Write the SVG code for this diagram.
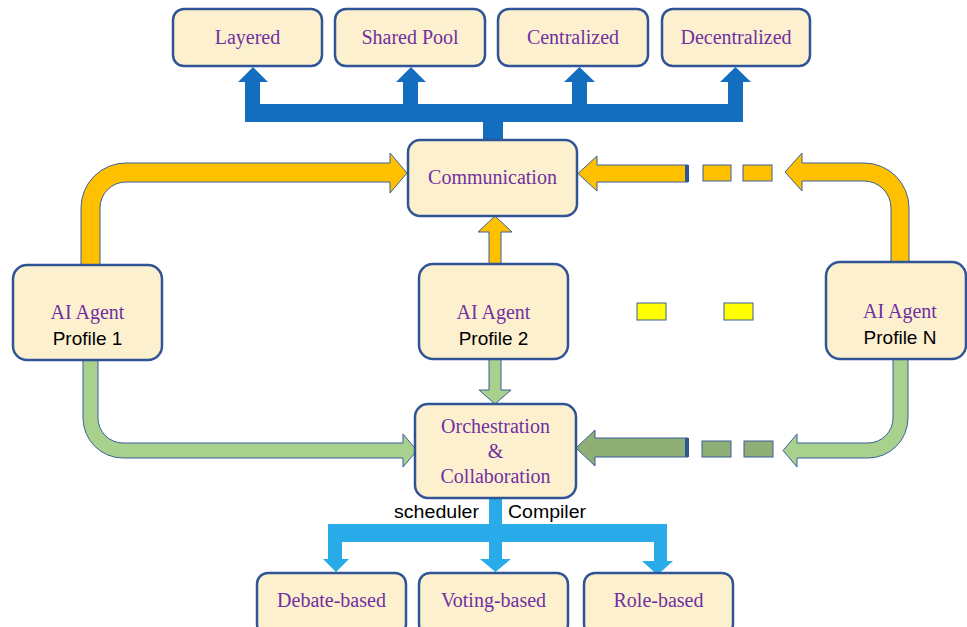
<svg xmlns="http://www.w3.org/2000/svg" width="967" height="627" viewBox="0 0 967 627">
<style>
.box{fill:#fdf0cf;stroke:#2f5597;stroke-width:2.5}
.t{font-family:"Liberation Serif","DejaVu Serif",serif;font-size:20px;fill:#7030a0;text-anchor:middle}
.s{font-family:"Liberation Sans","Open Sans",sans-serif;font-size:19px;fill:#000;text-anchor:middle}
.lbl{font-family:"Liberation Sans","Open Sans",sans-serif;font-size:18px;fill:#000}
.or{fill:#ffc000;stroke:#3a5f9a;stroke-width:1}
.gr{fill:#a9d18e;stroke:#3a5f9a;stroke-width:1}
.dg{fill:#8fae76;stroke:#3a5f9a;stroke-width:1}
.yl{fill:#ffff00;stroke:#3a5f9a;stroke-width:1}
.cap{fill:#2f5597}
.bl{fill:#146ebf}
.lb{fill:#29abe9}
</style>
<rect width="967" height="627" fill="#fff"/>
<g id="connectors">
  <g class="bl">
    <rect x="245" y="104" width="498" height="18"/>
    <rect x="483" y="121" width="20" height="19"/>
    <path d="M245 105 L245 82 L238 82 L253 67 L268 82 L260 82 L260 105 Z"/>
    <path d="M403 105 L403 82 L396 82 L411 67 L426 82 L418 82 L418 105 Z"/>
    <path d="M572 105 L572 82 L564 82 L579.5 67 L595 82 L587 82 L587 105 Z"/>
    <path d="M728 105 L728 82 L720 82 L735.5 67 L751 82 L743 82 L743 105 Z"/>
  </g>
  <path class="or" d="M81 265 L81 208 A45 45 0 0 1 126 163 L390 163 L390 153 L407 173 L390 193 L390 182 L126 182 A26 26 0 0 0 100 208 L100 265 Z"/>
  <path class="or" d="M489 264 L489 232 L478 232 L495 216 L512 232 L501 232 L501 264 Z"/>
  <path class="or" d="M688 165 L597 165 L597 156 L578 173.5 L597 191 L597 182 L688 182 Z"/>
  <rect class="cap" x="685" y="165" width="4" height="17"/>
  <rect class="or" x="703" y="165" width="28" height="16"/>
  <rect class="or" x="743" y="165" width="29" height="16"/>
  <path class="or" d="M909 262 L909 208 A45 45 0 0 0 864 163 L802 163 L802 153 L785 172 L802 191 L802 181 L864 181 A27 27 0 0 1 891 208 L891 262 Z"/>
  <rect class="yl" x="637" y="303" width="29" height="17"/>
  <rect class="yl" x="724" y="303" width="29" height="17"/>
  <path class="gr" d="M83 360 L83 418 A40 40 0 0 0 123 458 L403 458 L403 467 L417 450.5 L403 434 L403 443 L123 443 A25 25 0 0 1 98 418 L98 360 Z"/>
  <path class="gr" d="M489 359 L489 390 L479 390 L495 404 L511 390 L501 390 L501 359 Z"/>
  <path class="dg" d="M688 438 L595 438 L595 430 L576 448 L595 466 L595 457 L688 457 Z"/>
  <rect class="cap" x="685" y="438" width="4" height="19"/>
  <rect class="dg" x="702" y="441" width="29" height="16"/>
  <rect class="dg" x="744" y="441" width="29" height="16"/>
  <path class="gr" d="M908 359 L908 418 A40 40 0 0 1 868 458 L797 458 L797 467 L783 450.5 L797 434 L797 443 L868 443 A25 25 0 0 0 893 418 L893 359 Z"/>
  <g class="lb">
    <rect x="489" y="497" width="13" height="28"/>
    <rect x="328" y="524" width="339" height="18"/>
    <path d="M328 541 L328 559 L323 559 L336 572 L349 559 L342 559 L342 541 Z"/>
    <path d="M489 541 L489 559 L480 559 L495.5 572 L511 559 L502 559 L502 541 Z"/>
    <path d="M654 541 L654 561 L642 561 L657.5 575 L673 561 L667 561 L667 541 Z"/>
  </g>
  <text class="lbl" x="394" y="518" textLength="85" lengthAdjust="spacingAndGlyphs">scheduler</text>
  <text class="lbl" x="508" y="518" textLength="78" lengthAdjust="spacingAndGlyphs">Compiler</text>
</g>
<g id="layered"><rect class="box" x="173" y="9" width="149" height="57" rx="11"/><text class="t" x="247.5" y="44">Layered</text></g>
<g id="shared-pool"><rect class="box" x="335" y="9" width="150" height="57" rx="11"/><text class="t" x="410" y="44">Shared Pool</text></g>
<g id="centralized"><rect class="box" x="498" y="9" width="150" height="57" rx="11"/><text class="t" x="573" y="44">Centralized</text></g>
<g id="decentralized"><rect class="box" x="662" y="9" width="148" height="57" rx="11"/><text class="t" x="736" y="44">Decentralized</text></g>
<g id="communication"><rect class="box" x="408" y="140" width="169" height="76" rx="12"/><text class="t" x="492.5" y="184">Communication</text></g>
<g id="profile1"><rect class="box" x="13" y="265" width="149" height="95" rx="14"/><text class="t" x="87.5" y="319">AI Agent</text><text class="s" x="87.5" y="345">Profile 1</text></g>
<g id="profile2"><rect class="box" x="419" y="264" width="149" height="95" rx="14"/><text class="t" x="493.5" y="319">AI Agent</text><text class="s" x="493.5" y="345">Profile 2</text></g>
<g id="profileN"><rect class="box" x="826" y="262" width="140" height="97" rx="14"/><text class="t" x="900" y="318">AI Agent</text><text class="s" x="900" y="344">Profile N</text></g>
<g id="orchestration"><rect class="box" x="415" y="404" width="161" height="94" rx="13"/><text class="t" x="495.5" y="433">Orchestration</text><text class="t" x="495.5" y="458">&amp;</text><text class="t" x="495.5" y="483">Collaboration</text></g>
<g id="debate"><rect class="box" x="257" y="573" width="149" height="62" rx="11"/><text class="t" x="331.5" y="607">Debate-based</text></g>
<g id="voting"><rect class="box" x="419" y="573" width="149" height="62" rx="11"/><text class="t" x="493.5" y="607">Voting-based</text></g>
<g id="role"><rect class="box" x="584" y="573" width="149" height="62" rx="11"/><text class="t" x="658.5" y="607">Role-based</text></g>
</svg>
